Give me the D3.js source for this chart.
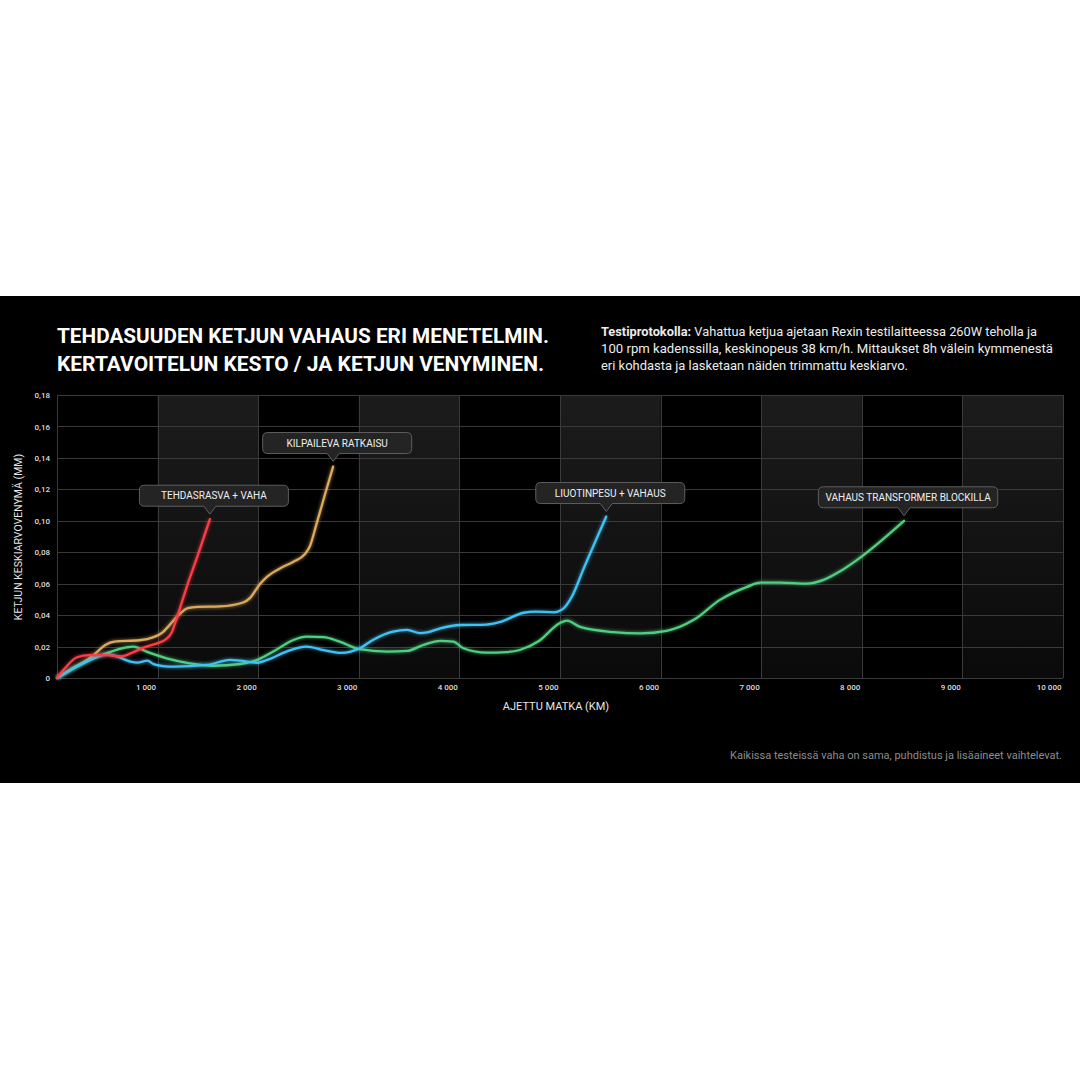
<!DOCTYPE html>
<html>
<head>
<meta charset="utf-8">
<script src="https://cdn.jsdelivr.net/npm/d3@7/dist/d3.min.js"></script>
<style>
  html, body { margin: 0; padding: 0; background: #fff; }
  svg { display: block; font-family: Roboto, "Noto Sans", sans-serif; }
</style>
</head>
<body>
<script>
// tick values
const xTicks = [1000, 2000, 3000, 4000, 5000, 6000, 7000, 8000, 9000, 10000];
const yTicks = [0, 0.02, 0.04, 0.06, 0.08, 0.10, 0.12, 0.14, 0.16, 0.18];
const shadedBands = [[1000, 2000], [3000, 4000], [5000, 6000], [7000, 8000], [9000, 10000]];

// series: [km, mm]
const tehdasrasva = [[0,0],[90,0.007],[200,0.0132],[320,0.0145],[500,0.0145],[640,0.0138],[760,0.0165],[880,0.0198],[1000,0.0222],[1080,0.0245],[1140,0.029],[1190,0.038],[1290,0.058],[1410,0.080],[1520,0.101]];
const kilpaileva = [[0,0],[150,0.006],[300,0.0115],[380,0.0155],[480,0.021],[570,0.0232],[820,0.024],[960,0.026],[1050,0.029],[1110,0.033],[1200,0.0395],[1300,0.0445],[1400,0.0452],[1620,0.0455],[1850,0.048],[1920,0.051],[2020,0.060],[2090,0.0645],[2220,0.0698],[2350,0.074],[2460,0.0785],[2515,0.084],[2580,0.098],[2665,0.117],[2745,0.1345]];
const liuotinpesu = [[0,0],[230,0.0083],[430,0.0142],[500,0.0152],[600,0.0136],[730,0.0104],[800,0.0098],[900,0.011],[960,0.0088],[1050,0.0076],[1160,0.0072],[1490,0.0083],[1720,0.0115],[1820,0.011],[1990,0.0097],[2090,0.0115],[2280,0.0168],[2480,0.020],[2650,0.0178],[2820,0.016],[2920,0.0168],[3010,0.0189],[3140,0.0242],[3340,0.0295],[3480,0.0306],[3610,0.0286],[3680,0.029],[3810,0.0316],[4010,0.0337],[4270,0.034],[4400,0.0355],[4640,0.0415],[4760,0.0422],[4940,0.0418],[5020,0.0435],[5120,0.052],[5230,0.0688],[5460,0.1027]];
const transformer = [[0,0],[160,0.0062],[490,0.0157],[690,0.0195],[760,0.020],[890,0.0168],[1090,0.0125],[1320,0.0093],[1550,0.0078],[1820,0.0089],[1990,0.0115],[2150,0.0168],[2350,0.0242],[2480,0.0263],[2650,0.026],[2810,0.0231],[3010,0.0183],[3280,0.0168],[3480,0.0172],[3640,0.021],[3810,0.0236],[3940,0.0231],[4040,0.0189],[4270,0.0161],[4470,0.0165],[4600,0.0178],[4790,0.0235],[5000,0.035],[5070,0.0365],[5200,0.0325],[5530,0.0292],[5800,0.0284],[6060,0.030],[6330,0.037],[6590,0.0497],[6860,0.058],[6990,0.0607],[7190,0.0607],[7450,0.060],[7620,0.0624],[7780,0.0677],[7950,0.075],[8420,0.100]];

const seriesNames = ["KILPAILEVA RATKAISU", "VAHAUS TRANSFORMER BLOCKILLA", "LIUOTINPESU + VAHAUS", "TEHDASRASVA + VAHA"];
const seriesData = [kilpaileva, transformer, liuotinpesu, tehdasrasva];
const seriesColors = ["#dcaa5e", "#4fcf80", "#40c2f4", "#ff3c46"];

const W = 1080, H = 1080;
const band = { top: 296, bottom: 783 };
const plot = { left: 57, right: 1063, top: 395, bottom: 678 };

const svg = d3.select("body").append("svg")
    .attr("width", W)
    .attr("height", H);

const defs = svg.append("defs");
const grad = defs.append("linearGradient")
    .attr("id", "bandGrad")
    .attr("x1", 0).attr("y1", 0).attr("x2", 0).attr("y2", 1);
grad.append("stop").attr("offset", "0%").attr("stop-color", "#1c1c1c");
grad.append("stop").attr("offset", "100%").attr("stop-color", "#0a0a0a");

const glow = defs.append("filter").attr("id", "glow")
    .attr("x", "-10%").attr("y", "-10%").attr("width", "120%").attr("height", "120%");
glow.append("feGaussianBlur").attr("stdDeviation", 1.6);

svg.append("rect").attr("width", W).attr("height", H).attr("fill", "#fff");
svg.append("rect")
    .attr("y", band.top)
    .attr("width", W)
    .attr("height", band.bottom - band.top)
    .attr("fill", "#000");

// titles
const title = svg.append("text")
    .attr("fill", "#fff")
    .attr("font-weight", 700)
    .attr("font-size", 21);
title.append("tspan").attr("x", 57).attr("y", 343)
    .attr("textLength", 492).attr("lengthAdjust", "spacingAndGlyphs")
    .text("TEHDASUUDEN KETJUN VAHAUS ERI MENETELMIN.");
title.append("tspan").attr("x", 57).attr("y", 371)
    .attr("textLength", 487).attr("lengthAdjust", "spacingAndGlyphs")
    .text("KERTAVOITELUN KESTO / JA KETJUN VENYMINEN.");

const proto = [
    { y: 336, len: 436, bold: "Testiprotokolla:", rest: " Vahattua ketjua ajetaan Rexin testilaitteessa 260W teholla ja" },
    { y: 353, len: 452, bold: "", rest: "100 rpm kadenssilla, keskinopeus 38 km/h. Mittaukset 8h välein kymmenestä" },
    { y: 370, len: 307, bold: "", rest: "eri kohdasta ja lasketaan näiden trimmattu keskiarvo." }
];
proto.forEach(p => {
    const t = svg.append("text")
        .attr("x", 601).attr("y", p.y)
        .attr("fill", "#ececec")
        .attr("font-size", 13)
        .attr("textLength", p.len)
        .attr("lengthAdjust", "spacingAndGlyphs");
    if (p.bold) t.append("tspan").attr("font-weight", 700).text(p.bold);
    t.append("tspan").text(p.rest);
});

svg.append("text")
    .attr("x", 1062).attr("y", 759)
    .attr("text-anchor", "end")
    .attr("fill", "#8c8c8c")
    .attr("font-size", 11)
    .text("Kaikissa testeissä vaha on sama, puhdistus ja lisäaineet vaihtelevat.");

// scales
const x = d3.scaleLinear().domain([0, 10000]).range([plot.left, plot.right]);
const y = d3.scaleLinear().domain([0, 0.18]).range([plot.bottom, plot.top]);

// shaded columns
svg.append("g").selectAll("rect")
    .data(shadedBands)
    .enter().append("rect")
    .attr("x", d => x(d[0]))
    .attr("y", y(0.18))
    .attr("width", d => x(d[1]) - x(d[0]))
    .attr("height", y(0) - y(0.18))
    .attr("fill", "url(#bandGrad)");

// grid
const grid = svg.append("g").attr("stroke", "#3a3a3a").attr("stroke-width", 1);
grid.selectAll(".h").data(yTicks).enter().append("line")
    .attr("x1", plot.left).attr("x2", plot.right)
    .attr("y1", d => Math.round(y(d)) + 0.5).attr("y2", d => Math.round(y(d)) + 0.5);
grid.selectAll(".v").data([0].concat(xTicks)).enter().append("line")
    .attr("x1", d => Math.round(x(d)) + 0.5).attr("x2", d => Math.round(x(d)) + 0.5)
    .attr("y1", plot.top).attr("y2", plot.bottom);

// axes
const fiLocale = d3.formatLocale({ decimal: ",", thousands: "\u00a0", grouping: [3], currency: ["", "€"] });
const fmtKm = fiLocale.format(",");
const fmtMm = v => v === 0 ? "0" : fiLocale.format(".2f")(v);

const yAxis = svg.append("g")
    .attr("transform", "translate(" + (plot.left - 7) + ",0)")
    .call(d3.axisLeft(y).tickValues(yTicks).tickSize(0).tickPadding(0).tickFormat(fmtMm));
const xAxis = svg.append("g")
    .attr("transform", "translate(-2," + (plot.bottom + 6) + ")")
    .call(d3.axisBottom(x).tickValues(xTicks).tickSize(0).tickPadding(0).tickFormat(fmtKm));
[yAxis, xAxis].forEach(a => {
    a.select(".domain").remove();
    a.selectAll("text")
        .attr("fill", "#dedede")
        .attr("font-family", "Roboto, sans-serif")
        .attr("font-weight", 500)
        .attr("font-size", 8);
});
xAxis.selectAll("text").attr("text-anchor", "end").attr("dy", "0.71em");

svg.append("text")
    .attr("transform", "translate(22," + 537 + ") rotate(-90)")
    .attr("text-anchor", "middle")
    .attr("fill", "#e6e6e6")
    .attr("font-size", 10.5)
    .text("KETJUN KESKIARVOVENYMÄ (MM)");
svg.append("text")
    .attr("x", 556).attr("y", 710)
    .attr("text-anchor", "middle")
    .attr("fill", "#e6e6e6")
    .attr("font-size", 11)
    .text("AJETTU MATKA (KM)");

// lines
const line = d3.line()
    .x(d => x(d[0]))
    .y(d => y(d[1]))
    .curve(d3.curveMonotoneX);

const series = svg.append("g").selectAll("g")
    .data(seriesData)
    .enter().append("g");
series.append("path")
    .attr("d", line)
    .attr("fill", "none")
    .attr("stroke", (d, i) => seriesColors[i])
    .attr("stroke-width", 4)
    .attr("stroke-opacity", 0.45)
    .attr("filter", "url(#glow)");
series.append("path")
    .attr("d", line)
    .attr("fill", "none")
    .attr("stroke", (d, i) => seriesColors[i])
    .attr("stroke-width", 2.3)
    .attr("stroke-linecap", "round");

// callouts
const callout = svg.append("g").selectAll("g")
    .data(seriesData)
    .enter().append("g")
    .attr("transform", d => {
        const last = d[d.length - 1];
        return "translate(" + x(last[0]) + "," + (y(last[1]) - 5) + ")";
    });
callout.each(function (d, i) {
    const g = d3.select(this);
    const txt = g.append("text")
        .attr("fill", "#efefef")
        .attr("font-size", 10)
        .attr("text-anchor", "middle")
        .text(seriesNames[i]);
    const tw = txt.node().getComputedTextLength();
    const bw = Math.max(149, tw + 14), bh = 21, cx = 4;
    const left = cx - bw / 2, top = -8 - bh;
    g.insert("path", "text")
        .attr("d",
            "M" + (left + 5) + "," + top +
            "H" + (left + bw - 5) + "Q" + (left + bw) + "," + top + " " + (left + bw) + "," + (top + 5) +
            "V" + (top + bh - 5) + "Q" + (left + bw) + "," + (top + bh) + " " + (left + bw - 5) + "," + (top + bh) +
            "H" + 6 + "L0,0L" + (-6) + "," + (top + bh) +
            "H" + (left + 5) + "Q" + left + "," + (top + bh) + " " + left + "," + (top + bh - 5) +
            "V" + (top + 5) + "Q" + left + "," + top + " " + (left + 5) + "," + top + "Z")
        .attr("fill", "#242424")
        .attr("stroke", "#5e5e5e")
        .attr("stroke-width", 1);
    txt.attr("x", cx).attr("y", top + bh / 2 + 3.5);
});
</script>
</body>
</html>
